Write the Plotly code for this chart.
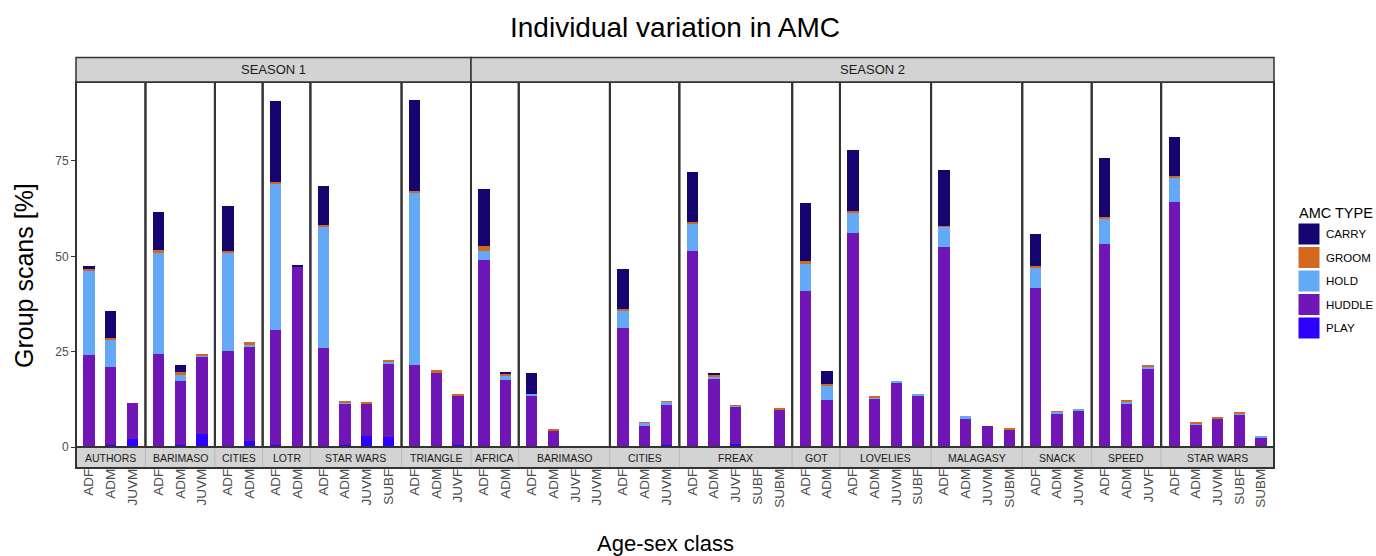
import plotly.graph_objects as go

# ---------------- data ----------------
seasons = ["SEASON 1"] * 6 + ["SEASON 2"] * 10
groups = ["AUTHORS", "BARIMASO", "CITIES", "LOTR", "STAR WARS", "TRIANGLE",
          "AFRICA", "BARIMASO", "CITIES", "FREAX", "GOT", "LOVELIES",
          "MALAGASY", "SNACK", "SPEED", "STAR WARS"]
classes = [
    ["ADF", "ADM", "JUVM"],
    ["ADF", "ADM", "JUVM"],
    ["ADF", "ADM"],
    ["ADF", "ADM"],
    ["ADF", "ADM", "JUVM", "SUBF"],
    ["ADF", "ADM", "JUVF"],
    ["ADF", "ADM"],
    ["ADF", "ADM", "JUVF", "JUVM"],
    ["ADF", "ADM", "JUVM"],
    ["ADF", "ADM", "JUVF", "SUBF", "SUBM"],
    ["ADF", "ADM"],
    ["ADF", "ADM", "JUVM", "SUBF"],
    ["ADF", "ADM", "JUVM", "SUBM"],
    ["ADF", "ADM", "JUVM"],
    ["ADF", "ADM", "JUVF"],
    ["ADF", "ADM", "JUVM", "SUBF", "SUBM"],
]

amc_types = ["PLAY", "HUDDLE", "HOLD", "GROOM", "CARRY"]  # stacking order, bottom -> top
amc_colors = {"CARRY": "#150570", "GROOM": "#d2691e", "HOLD": "#63a9f5",
              "HUDDLE": "#7015b6", "PLAY": "#2b00ff"}

play = [0.1, 0.4, 2.1, 0.1, 0.4, 3.3, 0.2, 1.6, 0.4, 0.1, 0.2, 0.4, 2.8, 2.5, 0.1, 0.1, 0.4,
        0.2, 0.2, 0.1, 0, 0, 0, 0.2, 0.2, 0.4, 0.1, 0.1, 0.7, 0, 0.3, 0.2, 0.2,
        0.1, 0.1, 0, 0, 0.3, 0, 0, 0, 0.1, 0, 0, 0.1, 0, 0, 0.1, 0, 0, 0, 0]
huddle = [24.1, 20.6, 9.4, 24.4, 16.9, 20.5, 25.0, 24.7, 30.2, 47.2, 25.8, 11.0, 8.7, 19.5,
          21.4, 19.3, 13.1,
          48.8, 17.3, 13.5, 4.4, 0, 0, 31.0, 5.2, 10.7, 51.3, 17.9, 9.8, 0, 9.6, 40.8, 12.2,
          56.1, 12.5, 16.8, 13.6, 52.2, 7.5, 5.5, 4.6, 41.6, 8.6, 9.6, 53.2, 11.5, 20.6,
          64.1, 5.8, 7.5, 8.5, 2.4]
hold = [22.2, 7.2, 0, 26.6, 1.7, 0.3, 25.7, 0.5, 38.5, 0, 31.6, 0.3, 0, 0.5, 45.1, 0, 0,
        2.4, 1.1, 0.4, 0, 0, 0, 4.4, 1.0, 0.8, 7.3, 0.5, 0.3, 0, 0, 6.9, 3.8,
        5.1, 0.4, 0.3, 0.4, 5.3, 0.5, 0, 0, 5.4, 0.6, 0.4, 6.5, 0.5, 0.4, 6.5, 0.4, 0, 0.3, 0.4]
groom = [0.4, 0.5, 0, 0.5, 0.7, 0.1, 0.5, 0.8, 0.3, 0, 0.7, 0.1, 0.2, 0.1, 0.6, 0.9, 0.5,
         1.4, 0.8, 0, 0.1, 0, 0, 0.6, 0.1, 0.1, 0.3, 0.4, 0.2, 0, 0.1, 1.0, 0.4,
         0.7, 0.2, 0, 0, 0.1, 0, 0, 0.4, 0.4, 0.2, 0, 0.5, 0.2, 0.3, 0.4, 0.2, 0.4, 0.2, 0]
carry = [0.6, 6.9, 0, 10.1, 1.7, 0, 11.9, 0, 21.2, 0.3, 10.1, 0, 0, 0, 23.9, 0, 0,
         14.9, 0.1, 5.3, 0, 0, 0, 10.6, 0, 0, 13.0, 0.5, 0, 0, 0, 15.2, 3.3,
         15.8, 0, 0, 0, 14.7, 0, 0, 0, 8.3, 0, 0, 15.4, 0, 0, 10.1, 0, 0, 0, 0]
values = {"PLAY": play, "HUDDLE": huddle, "HOLD": hold, "GROOM": groom, "CARRY": carry}

# ---------------- geometry helpers ----------------
W, H = 1376, 556
L, R, T, B = 76, 1274, 82, 447
PW, PH = R - L, B - T
FONT = "Liberation Sans, Arial, Helvetica, sans-serif"
EXPAND = 0.6  # ggplot discrete expansion on each side of a panel


def pxx(p):
    return (p - L) / PW


def pxy(p):
    return (B - p) / PH


# panel domains (free x space, like facet space="free_x")
units = [len(cl) - 1 + 2 * EXPAND for cl in classes]
total = sum(units)
domains = []
acc = 0.0
for u in units:
    d0 = max(0.0, min(1.0, acc / total))
    d1 = max(0.0, min(1.0, (acc + u) / total))
    domains.append((d0, d1))
    acc += u

starts = []
pos = 0
for cl in classes:
    starts.append(pos)
    pos += len(cl)

fig = go.Figure()
layout_axes = {}
for gi, cl in enumerate(classes):
    xname = "x" if gi == 0 else f"x{gi + 1}"
    aname = "xaxis" if gi == 0 else f"xaxis{gi + 1}"
    sl = slice(starts[gi], starts[gi] + len(cl))
    for t in amc_types:
        fig.add_trace(go.Bar(x=cl, y=values[t][sl], name=t, width=0.52,
                             xaxis=xname, yaxis="y",
                             marker=dict(color=amc_colors[t], line=dict(width=0)),
                             showlegend=False))
    layout_axes[aname] = dict(
        domain=[domains[gi][0], domains[gi][1]], anchor="y", type="category",
        categoryorder="array", categoryarray=cl,
        range=[-EXPAND, len(cl) - 1 + EXPAND],
        tickangle=-90, ticks="", ticklabelstandoff=18,
        tickfont=dict(size=13.5, color="#4d4d4d", family=FONT),
        showgrid=False, zeroline=False, showline=False, fixedrange=True)

shapes, annotations = [], []


def label(x, y, text, size, color="black", xanchor="center", angle=0):
    annotations.append(dict(xref="paper", yref="paper", x=x, y=y, text=text, showarrow=False,
                            xanchor=xanchor, yanchor="middle", textangle=angle,
                            font=dict(size=size, color=color, family=FONT)))


# bottom group strips + panel borders
for gi, g in enumerate(groups):
    x0, x1 = domains[gi]
    shapes.append(dict(type="rect", xref="paper", yref="paper", x0=x0, x1=x1,
                       y0=pxy(468), y1=pxy(447), fillcolor="#d3d3d3",
                       line=dict(color="#bdbdbd", width=1), layer="below"))
    label((x0 + x1) / 2, pxy(458), g, 10.5, "#1a1a1a")
    shapes.append(dict(type="rect", xref="paper", yref="paper", x0=x0, x1=x1, y0=0, y1=1,
                       line=dict(color="#333333", width=2), layer="above"))
shapes.append(dict(type="rect", xref="paper", yref="paper", x0=0, x1=1,
                   y0=pxy(468), y1=pxy(447), line=dict(color="#333333", width=2)))

# top season strips
season_names = []
for s in seasons:
    if s not in season_names:
        season_names.append(s)
for s in season_names:
    idx = [i for i, ss in enumerate(seasons) if ss == s]
    x0, x1 = domains[idx[0]][0], domains[idx[-1]][1]
    shapes.append(dict(type="rect", xref="paper", yref="paper", x0=x0, x1=x1,
                       y0=pxy(82), y1=pxy(57.5), fillcolor="#d3d3d3",
                       line=dict(color="#333333", width=1.5)))
    label((x0 + x1) / 2, pxy(70), s, 13, "#1a1a1a")

# titles
label(0.5, pxy(27), "Individual variation in AMC", 28)
label(pxx(665), pxy(543), "Age-sex class", 22)
label(pxx(24), pxy(276), "Group scans [%]", 25, angle=-90)

# manual legend
label(pxx(1297), pxy(213), "AMC TYPE", 14.5, xanchor="left")
legend_order = ["CARRY", "GROOM", "HOLD", "HUDDLE", "PLAY"]
for i, t in enumerate(legend_order):
    top = 223 + i * 23.5
    shapes.append(dict(type="rect", xref="paper", yref="paper", x0=pxx(1298), x1=pxx(1320),
                       y0=pxy(top + 22), y1=pxy(top), fillcolor=amc_colors[t],
                       line=dict(color="white", width=1)))
    label(pxx(1324), pxy(top + 11), t, 11.5, xanchor="left")

fig.update_layout(
    barmode="stack",
    width=W, height=H,
    margin=dict(l=L, r=W - R, t=T, b=H - B),
    paper_bgcolor="white", plot_bgcolor="white",
    font=dict(family=FONT),
    shapes=shapes, annotations=annotations,
    showlegend=False,
    yaxis=dict(domain=[0, 1], anchor="x", range=[0, 95.7], tickvals=[0, 25, 50, 75],
               ticks="outside", ticklen=4, tickcolor="#333333", tickwidth=1,
               tickfont=dict(size=12, color="#4d4d4d", family=FONT),
               showgrid=False, zeroline=False, showline=False, fixedrange=True),
    **layout_axes,
)

fig.write_html("out.html")
